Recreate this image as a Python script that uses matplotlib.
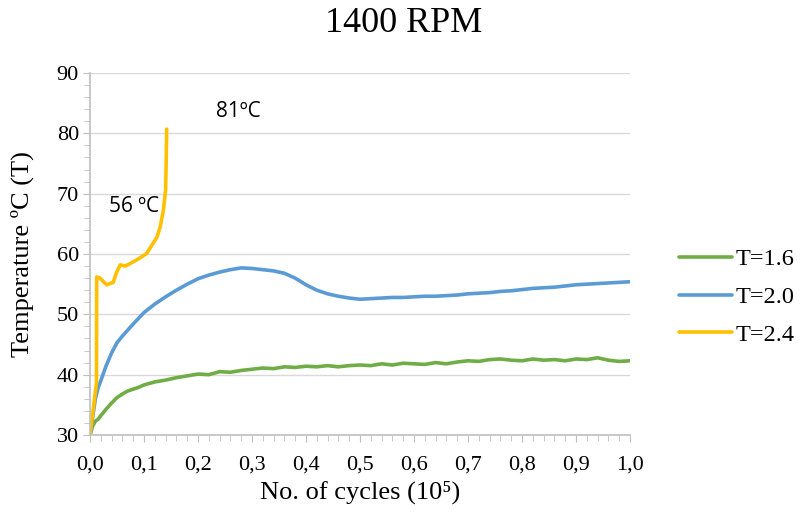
import matplotlib
matplotlib.use("Agg")
import matplotlib.pyplot as plt
from matplotlib.ticker import MultipleLocator, FuncFormatter

# T=1.6 (green)
x_t16 = [0.0, 0.005, 0.01, 0.015, 0.02, 0.03, 0.04, 0.05, 0.06, 0.07, 0.08, 0.09, 0.10,
         0.12, 0.14, 0.16, 0.18, 0.20, 0.22, 0.24, 0.26, 0.28, 0.30, 0.32, 0.34, 0.36,
         0.38, 0.40, 0.42, 0.44, 0.46, 0.48, 0.50, 0.52, 0.54, 0.56, 0.58, 0.60, 0.62,
         0.64, 0.66, 0.68, 0.70, 0.72, 0.74, 0.76, 0.78, 0.80, 0.82, 0.84, 0.86, 0.88,
         0.90, 0.92, 0.94, 0.96, 0.98, 1.0]
y_t16 = [30.0, 31.5, 32.3, 32.6, 33.2, 34.3, 35.3, 36.2, 36.8, 37.3, 37.6, 37.9, 38.3,
         38.8, 39.1, 39.5, 39.8, 40.1, 40.0, 40.5, 40.4, 40.7, 40.9, 41.1, 41.0, 41.3,
         41.2, 41.4, 41.3, 41.5, 41.3, 41.5, 41.6, 41.5, 41.8, 41.6, 41.9, 41.8, 41.7,
         42.0, 41.8, 42.1, 42.3, 42.2, 42.5, 42.6, 42.4, 42.3, 42.6, 42.4, 42.5, 42.3,
         42.6, 42.5, 42.8, 42.4, 42.2, 42.3]

# T=2.0 (blue)
x_t20 = [0.0, 0.005, 0.01, 0.015, 0.02, 0.03, 0.04, 0.05, 0.06, 0.07, 0.08, 0.10, 0.12,
         0.14, 0.16, 0.18, 0.20, 0.22, 0.24, 0.26, 0.28, 0.30, 0.32, 0.34, 0.36, 0.38,
         0.40, 0.42, 0.44, 0.46, 0.48, 0.50, 0.52, 0.54, 0.56, 0.58, 0.60, 0.62, 0.64,
         0.66, 0.68, 0.70, 0.72, 0.74, 0.76, 0.78, 0.80, 0.82, 0.84, 0.86, 0.88, 0.90,
         0.92, 0.94, 0.96, 0.98, 1.0]
y_t20 = [30.0, 33.0, 36.0, 37.8, 39.0, 41.5, 43.6, 45.3, 46.4, 47.4, 48.4, 50.3, 51.7,
         52.9, 54.0, 55.0, 55.9, 56.5, 57.0, 57.4, 57.7, 57.6, 57.4, 57.2, 56.8, 56.0,
         54.9, 54.0, 53.4, 53.0, 52.7, 52.5, 52.6, 52.7, 52.8, 52.8, 52.9, 53.0, 53.0,
         53.1, 53.2, 53.4, 53.5, 53.6, 53.8, 53.9, 54.1, 54.3, 54.4, 54.5, 54.7, 54.9,
         55.0, 55.1, 55.2, 55.3, 55.4]

# T=2.4 (yellow)
x_t24 = [0.0, 0.012, 0.0124, 0.0185, 0.025, 0.031, 0.043, 0.049, 0.056, 0.065, 0.074,
         0.086, 0.095, 0.105, 0.117, 0.124, 0.13, 0.136, 0.14, 0.141, 0.142]
y_t24 = [30.0, 38.6, 56.2, 56.0, 55.4, 54.9, 55.3, 56.9, 58.2, 58.0, 58.4, 59.0, 59.5,
         60.1, 61.8, 62.8, 64.5, 67.3, 70.6, 75.0, 80.7]

series = [("T=1.6", x_t16, y_t16, "#70AD47"),
          ("T=2.0", x_t20, y_t20, "#5B9BD5"),
          ("T=2.4", x_t24, y_t24, "#FFC000")]

plt.rcParams["font.family"] = ["Liberation Serif", "DejaVu Serif"]
sans = ["Open Sans", "DejaVu Sans"]

fig = plt.figure(figsize=(8, 5.17), dpi=100)
ax = fig.add_axes([0.1125, 0.1586, 0.675, 0.7002])

for label, xs, ys, col in series:
    ax.plot(xs, ys, color=col, lw=2.6, label=label, solid_capstyle="round")

ax.set_xlim(0, 1.0)
ax.set_ylim(30, 90)
ax.xaxis.set_major_locator(MultipleLocator(0.1))
ax.xaxis.set_minor_locator(MultipleLocator(0.02))
ax.yaxis.set_major_locator(MultipleLocator(10))
ax.yaxis.set_minor_locator(MultipleLocator(2))
ax.xaxis.set_major_formatter(FuncFormatter(lambda v, p: f"{v:.1f}".replace(".", ",")))
ax.grid(axis="y", which="major", color="#D9D9D9", lw=1)
ax.set_axisbelow(True)
for s in ["top", "right"]:
    ax.spines[s].set_visible(False)
for s in ["left", "bottom"]:
    ax.spines[s].set_color("#BFBFBF")
    ax.spines[s].set_linewidth(1.2)
ax.tick_params(which="both", color="#BFBFBF", labelsize=16)
ax.tick_params(axis="x", pad=10)
ax.tick_params(axis="y", pad=3)
ax.tick_params(which="major", length=5)
ax.tick_params(which="minor", length=4)

ax.set_xlabel("No. of cycles (10\u2075)", fontsize=19, labelpad=4)
ax.set_ylabel("Temperature ºC (T)", fontsize=19, labelpad=16)
fig.text(0.504, 0.955, "1400 RPM", ha="center", va="center", fontsize=26)

ax.text(0.275, 83.6, "81ºC", fontsize=15, family=sans, ha="center", va="center")
ax.text(0.082, 67.8, "56 ºC", fontsize=15, family=sans, ha="center", va="center")

ax.legend(loc="center left", bbox_to_anchor=(1.05, 0.381), frameon=False,
          fontsize=17.5, handlelength=2.2, handletextpad=0.15, labelspacing=0.65)

fig.savefig("out.png", dpi=100)
